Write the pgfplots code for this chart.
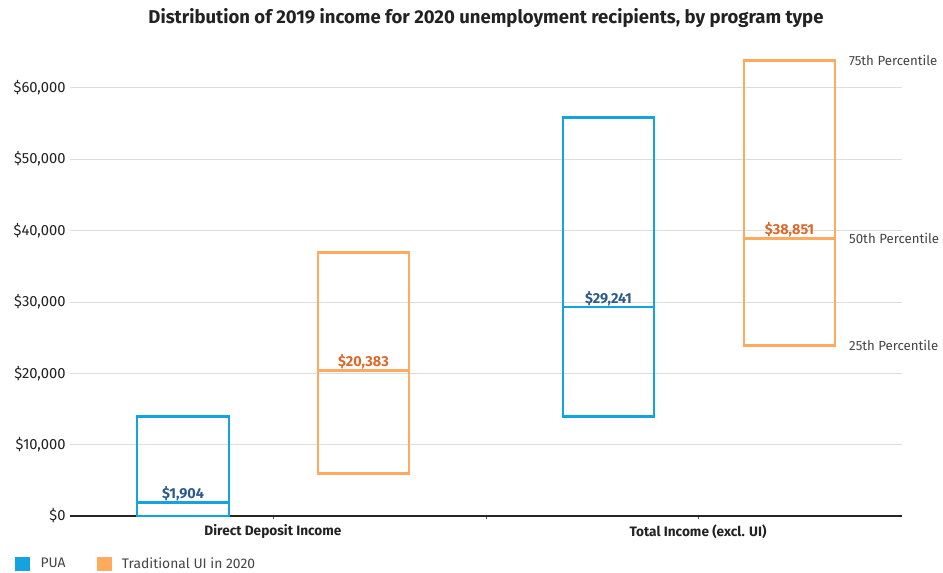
\documentclass[border=0pt]{standalone}
\usepackage{pgfplots}
\pgfplotsset{compat=1.18}
\usepackage{fontspec}
\setmainfont{Fira Sans}
\definecolor{pua}{HTML}{12A3E0}
\definecolor{trad}{HTML}{FFAA5C}
\definecolor{pualab}{HTML}{2B5B8A}
\definecolor{tradlab}{HTML}{D9692A}
\definecolor{gridc}{HTML}{DDDDDD}
\definecolor{txt}{HTML}{222222}
\definecolor{ptxt}{HTML}{444444}
\begin{document}
\begin{tikzpicture}
\begin{axis}[
  scale only axis, width=832bp, height=464bp,
  at={(70bp,57bp)}, anchor=south west,
  xmin=0, xmax=832, ymin=0, ymax=65000,
  axis x line*=bottom, axis y line*=left,
  y axis line style={draw=none},
  x axis line style={draw=black!85, line width=1.1pt},
  xtick={203,416,628},
  xticklabels={Direct Deposit Income,,Total Income (excl. UI)},
  xticklabel style={font=\fontsize{13.7}{15}\selectfont\bfseries, text=txt, yshift=-2bp},
  tick align=outside,
  x tick style={draw=black!70, line width=0.5pt},
  major tick length=3bp,
  ytick={0,10000,20000,30000,40000,50000,60000},
  y tick style={draw=none},
  ymajorgrids, grid style={gridc, line width=0.6pt},
  yticklabel={\$\pgfmathprintnumber{\tick}},
  /pgf/number format/.cd, fixed, precision=0, 1000 sep={,}, assume math mode=true, /pgfplots/.cd,
  yticklabel style={font=\fontsize{14.8}{16}\selectfont, text=txt, xshift=2bp},
  scaled y ticks=false,
  title={Distribution of 2019 income for 2020 unemployment recipients, by program type},
  title style={font=\fontsize{18.6}{21}\selectfont\bfseries, text=txt, at={(axis description cs:0.5,1)}, anchor=center, yshift=28bp},
  legend style={at={(axis description cs:-0.0697,-0.1034)}, anchor=west, draw=none, fill=none,
    legend columns=-1, font=\fontsize{13.9}{15}\selectfont, text=ptxt,
    /tikz/every odd column/.append style={column sep=9bp},
    /tikz/every even column/.append style={column sep=29bp}},
  legend image code/.code={\fill[#1] (0bp,-6.5bp) rectangle (14bp,6.5bp);},
  clip=false,
]
\addlegendimage{pua}
\addlegendentry{PUA}
\addlegendimage{trad}
\addlegendentry{Traditional UI in 2020}
% boxes: 25th to 75th percentile
\addplot[forget plot, pua, line width=2.8bp, line join=miter] coordinates {(67,0) (159,0) (159,13900) (67,13900) (67,0)} -- cycle;
\addplot[forget plot, pua, line width=2.4bp] coordinates {(67,1904) (159,1904)};
\addplot[forget plot, trad, line width=2.8bp, line join=miter] coordinates {(248,6000) (339,6000) (339,36900) (248,36900) (248,6000)} -- cycle;
\addplot[forget plot, trad, line width=2.4bp] coordinates {(248,20383) (339,20383)};
\addplot[forget plot, pua, line width=2.8bp, line join=miter] coordinates {(493,13900) (584,13900) (584,55800) (493,55800) (493,13900)} -- cycle;
\addplot[forget plot, pua, line width=2.4bp] coordinates {(493,29241) (584,29241)};
\addplot[forget plot, trad, line width=2.8bp, line join=miter] coordinates {(674,23900) (765,23900) (765,63800) (674,63800) (674,23900)} -- cycle;
\addplot[forget plot, trad, line width=2.4bp] coordinates {(674,38851) (765,38851)};
% median labels
\node[anchor=south, font=\fontsize{14.5}{16}\selectfont\bfseries, text=pualab, inner sep=1.5bp] at (axis cs:113,1904) {\$1,904};
\node[anchor=south, font=\fontsize{14.5}{16}\selectfont\bfseries, text=tradlab, inner sep=1.5bp] at (axis cs:293.5,20383) {\$20,383};
\node[anchor=south, font=\fontsize{14.5}{16}\selectfont\bfseries, text=pualab, inner sep=1.5bp] at (axis cs:538.5,29241) {\$29,241};
\node[anchor=south, font=\fontsize{14.5}{16}\selectfont\bfseries, text=tradlab, inner sep=1.5bp] at (axis cs:719.5,38851) {\$38,851};
% percentile labels
\node[anchor=west, font=\fontsize{13.3}{15}\selectfont, text=ptxt, inner sep=0pt] at (axis cs:779,63800) {75th Percentile};
\node[anchor=west, font=\fontsize{13.3}{15}\selectfont, text=ptxt, inner sep=0pt] at (axis cs:779,38851) {50th Percentile};
\node[anchor=west, font=\fontsize{13.3}{15}\selectfont, text=ptxt, inner sep=0pt] at (axis cs:779,23900) {25th Percentile};
\end{axis}
\pgfresetboundingbox
\path (0,0) rectangle (943bp,573bp);
\end{tikzpicture}
\end{document}
